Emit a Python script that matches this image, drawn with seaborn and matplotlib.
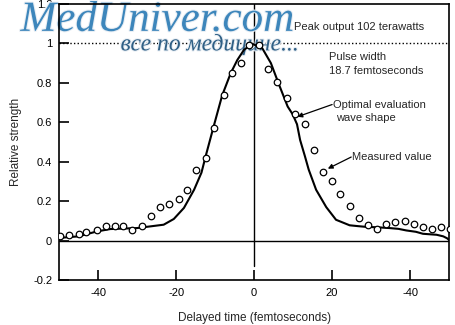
import matplotlib
matplotlib.use("Agg")
import matplotlib.pyplot as plt
import matplotlib.patheffects as pe
import seaborn as sns
import pandas as pd

# Optimal evaluation wave shape (solid curve)
curve_t = [-50.0, -45.0, -40.3, -36.9, -30.0, -23.2, -20.6, -18.0, -15.4, -13.5,
           -12.4, -10.5, -8.2, -6.0, -4.3, -2.6, -0.5, 2.1, 4.3, 6.4, 8.6, 9.9,
           11.0, 11.8, 13.0, 14.0, 15.9, 18.5, 21.0, 24.5, 26.5, 28.7, 31.5, 34.7,
           37.0, 39.0, 41.5, 43.3, 46.8, 48.5, 49.5, 50.2]
curve_v = [0.014, 0.022, 0.047, 0.059, 0.064, 0.081, 0.110, 0.166, 0.258, 0.345,
           0.430, 0.570, 0.736, 0.849, 0.916, 0.967, 0.998, 0.975, 0.900, 0.790, 0.680, 0.640,
           0.590, 0.510, 0.430, 0.360, 0.258, 0.170, 0.106, 0.078, 0.074, 0.070, 0.068, 0.064,
           0.060, 0.052, 0.045, 0.035, 0.030, 0.022, 0.012, 0.000]

# Measured values (open circles)
measured_t = [-49.7, -47.6, -45.0, -43.0, -40.4, -38.1, -35.8, -33.5, -31.4, -28.8,
              -26.5, -24.2, -21.9, -19.3, -17.2, -14.9, -12.4, -10.3, -7.7, -5.7,
              -3.4, -1.2, 1.2, 3.6, 5.8, 8.4, 10.6, 13.0, 15.3, 17.6,
              20.0, 22.1, 24.6, 26.8, 29.3, 31.6, 33.9, 36.2, 38.6, 41.0,
              43.3, 45.6, 47.8, 50.2]
measured_v = [0.022, 0.029, 0.034, 0.042, 0.052, 0.072, 0.076, 0.072, 0.052, 0.072,
              0.127, 0.169, 0.187, 0.211, 0.258, 0.356, 0.419, 0.571, 0.736, 0.849,
              0.903, 0.990, 0.990, 0.869, 0.803, 0.722, 0.641, 0.591, 0.461, 0.348,
              0.300, 0.238, 0.177, 0.115, 0.078, 0.061, 0.086, 0.093, 0.098, 0.086,
              0.069, 0.061, 0.067, 0.061]

x_ticks = [-40, -20, 0, 20, 40]
x_tick_labels = ["-40", "-20", "0", "20", "-40"]
y_ticks = [-0.2, 0.0, 0.2, 0.4, 0.6, 0.8, 1.0, 1.2]
y_tick_labels = ["-0.2", "0", "0.2", "0.4", "0.6", "0.8", "1", "1.2"]

curve_df = pd.DataFrame({"t": curve_t, "v": curve_v})
meas_df = pd.DataFrame({"t": measured_t, "v": measured_v})

sns.set_theme(style="ticks")
plt.rcParams["font.family"] = ["Liberation Sans", "DejaVu Sans"]

fig = plt.figure(figsize=(4.55, 3.25), dpi=100)
ax = fig.add_axes([0.130, 0.138, 0.857, 0.850])

# reference lines
ax.axhline(0.0, color="black", lw=1.0, zorder=1)
ax.axhline(1.0, color="black", lw=1.0, ls=(0, (1, 1.6)), zorder=1)
ax.axvline(0.0, ymin=0.05, ymax=1.0, color="black", lw=1.0, zorder=1)

sns.lineplot(data=curve_df, x="t", y="v", ax=ax, color="black", lw=1.5,
             sort=False, zorder=3)
sns.scatterplot(data=meas_df, x="t", y="v", ax=ax, marker="o", s=22,
                facecolor="white", edgecolor="black", linewidth=0.9, zorder=4)

ax.set_xlim(-50, 50)
ax.set_ylim(-0.2, 1.2)
ax.set_xticks(x_ticks)
ax.set_xticklabels(x_tick_labels)
ax.set_yticks(y_ticks)
ax.set_yticklabels(y_tick_labels)
ax.tick_params(direction="in", length=7, width=1.2, labelsize=8, colors="black")
ax.tick_params(axis="x", pad=6)
ax.tick_params(axis="y", pad=5)
for sp in ax.spines.values():
    sp.set_visible(True)
    sp.set_color("black")
    sp.set_linewidth(1.2)

ax.set_xlabel("Delayed time (femtoseconds)", fontsize=8.5, labelpad=10)
ax.set_ylabel("Relative strength", fontsize=8.5, labelpad=8)

# annotations
ax.text(10.3, 1.084, "Peak output 102 terawatts", fontsize=8, ha="left", va="center")
ax.text(19.3, 0.932, "Pulse width", fontsize=8, ha="left", va="center")
ax.text(19.3, 0.862, "18.7 femtoseconds", fontsize=8, ha="left", va="center")
ax.text(20.3, 0.689, "Optimal evaluation", fontsize=8, ha="left", va="center")
ax.text(20.9, 0.623, "wave shape", fontsize=8, ha="left", va="center")
ax.text(25.2, 0.422, "Measured value", fontsize=8, ha="left", va="center")

arrow = dict(arrowstyle="-|>", color="black", lw=0.9, mutation_scale=7,
             shrinkA=0, shrinkB=0)
ax.annotate("", xy=(11.1, 0.628), xytext=(20.0, 0.690), arrowprops=arrow)
ax.annotate("", xy=(18.9, 0.365), xytext=(24.9, 0.424), arrowprops=arrow)

# site watermark, drawn beneath the curve and markers
halo = [pe.withStroke(linewidth=1.5, foreground="#e8eef4")]
ax.text(0.045, 0.905, "MedUniver.com", fontsize=31, style="italic",
        family="Liberation Serif", color="#3d86bb", ha="left", va="baseline",
        path_effects=halo, zorder=2, transform=fig.transFigure, clip_on=False)
ax.text(0.265, 0.845, "все по медицине...", fontsize=17, style="italic",
        family="Liberation Serif", color="#2f5f85", ha="left", va="baseline",
        path_effects=halo, zorder=2, transform=fig.transFigure, clip_on=False)

fig.savefig("out.png", dpi=100)
